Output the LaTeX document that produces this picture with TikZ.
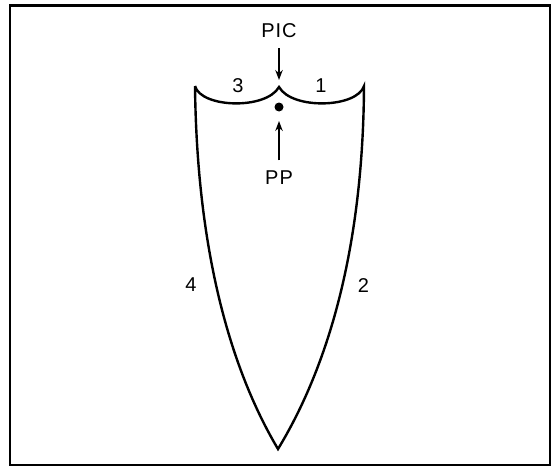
\documentclass[tikz,border=0pt]{standalone}
\usepackage{fontspec}
\setmainfont{Liberation Sans}
\usetikzlibrary{arrows.meta}
\begin{document}
\begin{tikzpicture}[x=1pt,y=-1pt,
  lbl/.style={inner sep=0pt,font=\fontsize{20}{22}\selectfont},
  widelbl/.style={inner sep=0pt,font=\fontsize{20}{22}\selectfont\addfontfeature{LetterSpace=5}},
  outline/.style={line width=2.4pt,line join=miter},
  arr/.style={line width=1.5pt,-{Stealth[length=10pt,width=7.5pt]}}]
\useasboundingbox (0,0) rectangle (553,468);
\fill[white] (0,0) rectangle (553,468);
\draw[line width=2.4pt] (10,5.5) rectangle (550,465);
% shield corners
\coordinate (tl) at (195,86);
\coordinate (cusp) at (279,87);
\coordinate (tr) at (364,86);
\coordinate (tip) at (278,449);
\draw[outline] (tl) .. controls (201,108) and (266,110) .. (cusp)
  .. controls (292,110) and (357,108) .. (tr)
  .. controls (363,260) and (323,375) .. (tip)
  .. controls (234,375) and (197,260) .. (tl);
% dot
\node[circle,fill=black,inner sep=0pt,minimum size=9pt] (dot) at (279,107) {};
% labels
\node[widelbl] (pic) at (279,31) {PIC};
\node[widelbl] (pp) at (279,177.5) {PP};
\node[lbl] (n3) at (238,86) {3};
\node[lbl] (n1) at (321,86) {1};
\node[lbl] (n4) at (191,285) {4};
\node[lbl] (n2) at (363.5,286) {2};
% arrows
\coordinate (picEnd) at (279,80);
\coordinate (ppEnd) at (279,121);
\draw[arr,shorten <=10pt] (pic.south) -- (picEnd);
\draw[arr,shorten <=10pt] (pp.north) -- (ppEnd);
\end{tikzpicture}
\end{document}
